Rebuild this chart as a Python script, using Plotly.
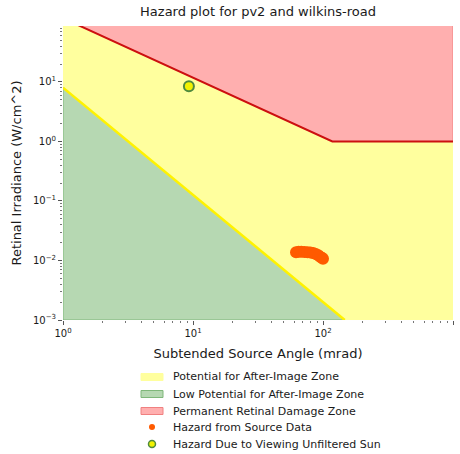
import plotly.graph_objects as go

# Threshold curves (subtended angle in mrad, retinal irradiance in W/cm^2)
afterimage_x = [1, 10, 100, 147]
afterimage_y = [8.0, 0.126, 0.002, 0.001]

burn_x = [1, 118, 1000]
burn_y = [118, 1.0, 1.0]

# Glare hazard samples from source data
source_x = [62, 65, 68, 72, 76, 80, 84, 88, 92, 95, 98, 100]
source_y = [0.0138, 0.0140, 0.0140, 0.0139, 0.0138, 0.0136, 0.0133, 0.0128, 0.0122, 0.0116, 0.0111, 0.0107]

# Unfiltered sun
sun_x = [9.3]
sun_y = [8.5]

legend_labels = [
    "Potential for After-Image Zone",
    "Low Potential for After-Image Zone",
    "Permanent Retinal Damage Zone",
    "Hazard from Source Data",
    "Hazard Due to Viewing Unfiltered Sun",
]

x_min, x_max = 1, 1000
y_min, y_max = 1e-3, 1000

x_ticks = [1, 10, 100, 1000]
x_ticktext = ["10<sup>0</sup>", "10<sup>1</sup>", "10<sup>2</sup>", "10<sup>3</sup>"]
y_ticks = [1e-3, 1e-2, 1e-1, 1, 10]
y_ticktext = ["10<sup>−3</sup>", "10<sup>−2</sup>", "10<sup>−1</sup>", "10<sup>0</sup>", "10<sup>1</sup>"]

yellow = "#FFFF9E"
green = "#B6D8B2"
pink = "#FFAFAF"
orange = "#FF5A00"
sun_fill = "#F2F200"
sun_edge = "#4E8A3E"
text_color = "#1A1A1A"

W, H = 460, 454
ML, MR, MT, MB = 63, 7, 26, 134
PW, PH = W - ML - MR, H - MT - MB


def px(xp):
    return (xp - ML) / PW


def py(yp):
    return (H - MB - yp) / PH


fig = go.Figure()

# Whole region first, other zones drawn over it
fig.add_trace(go.Scatter(
    x=[x_min, x_max, x_max, x_min, x_min], y=[y_min, y_min, y_max, y_max, y_min],
    fill="toself", fillcolor=yellow, mode="lines", line=dict(color=yellow, width=1),
    name=legend_labels[0], hoverinfo="skip"))

fig.add_trace(go.Scatter(
    x=afterimage_x + [afterimage_x[-1], x_min, x_min],
    y=afterimage_y + [y_min, y_min, afterimage_y[0]],
    fill="toself", fillcolor=green, mode="lines", line=dict(color="#7FB77A", width=1),
    name=legend_labels[1], hoverinfo="skip"))

fig.add_trace(go.Scatter(
    x=burn_x + [x_max, x_min, x_min],
    y=burn_y + [y_max, y_max, burn_y[0]],
    fill="toself", fillcolor=pink, mode="lines", line=dict(color="#F08080", width=1),
    name=legend_labels[2], hoverinfo="skip"))

fig.add_trace(go.Scatter(
    x=afterimage_x, y=afterimage_y, mode="lines",
    line=dict(color="#FFF200", width=2.5), hoverinfo="skip"))

fig.add_trace(go.Scatter(
    x=burn_x, y=burn_y, mode="lines",
    line=dict(color="#CC1010", width=2), hoverinfo="skip"))

fig.add_trace(go.Scatter(
    x=source_x, y=source_y, mode="markers",
    marker=dict(color=orange, size=12, line=dict(width=0)),
    name=legend_labels[3]))

fig.add_trace(go.Scatter(
    x=sun_x, y=sun_y, mode="markers",
    marker=dict(color=sun_fill, size=10, line=dict(color=sun_edge, width=2)),
    name=legend_labels[4]))

fig.update_traces(showlegend=False)

# Compact legend below the axes, built from shapes and annotations
rows = [377, 394, 411, 427, 444]
sym_x0, sym_x1, sym_cx, text_x = 141, 163, 152, 171
patch_styles = [(yellow, yellow), (green, "#7FB77A"), (pink, "#F08080")]
for i, (fc, lc) in enumerate(patch_styles):
    yc = rows[i]
    fig.add_shape(type="rect", xref="paper", yref="paper",
                  x0=px(sym_x0), x1=px(sym_x1), y0=py(yc + 3.5), y1=py(yc - 3.5),
                  fillcolor=fc, line=dict(color=lc, width=1))
for i, (fc, lc, r, lw) in enumerate([(orange, orange, 3, 0), (sun_fill, sun_edge, 3.5, 1.5)]):
    yc = rows[3 + i]
    fig.add_shape(type="circle", xref="paper", yref="paper",
                  x0=px(sym_cx - r), x1=px(sym_cx + r), y0=py(yc + r), y1=py(yc - r),
                  fillcolor=fc, line=dict(color=lc, width=lw))
for label, yc in zip(legend_labels, rows):
    fig.add_annotation(text=label, xref="paper", yref="paper", x=px(text_x), y=py(yc),
                       xanchor="left", yanchor="middle", showarrow=False,
                       font=dict(family="DejaVu Sans", size=11, color=text_color))

minor_x = [m * 10 ** e for e in range(0, 3) for m in range(2, 10)]
minor_y = [m * 10.0 ** e for e in range(-3, 2) for m in range(2, 10)]

axis_common = dict(
    type="log", showgrid=False, zeroline=False, showline=False,
    ticks="outside", ticklen=4, tickwidth=1, tickcolor="#555555",
    tickfont=dict(family="DejaVu Sans", size=10, color=text_color),
    tickmode="array",
)

fig.update_xaxes(
    **axis_common, range=[0, 3], tickvals=x_ticks, ticktext=x_ticktext,
    minor=dict(tickmode="array", tickvals=minor_x, ticks="outside", ticklen=2, tickcolor="#777777"),
    title=dict(text="Subtended Source Angle (mrad)", font=dict(family="DejaVu Sans", size=13, color=text_color), standoff=10),
)
fig.update_yaxes(
    **axis_common, range=[-3, 1.94], tickvals=y_ticks, ticktext=y_ticktext,
    minor=dict(tickmode="array", tickvals=minor_y, ticks="outside", ticklen=2, tickcolor="#777777"),
    title=dict(text="Retinal Irradiance (W/cm^2)", font=dict(family="DejaVu Sans", size=13, color=text_color), standoff=8),
)

fig.update_layout(
    width=W, height=H,
    margin=dict(l=ML, r=MR, t=MT, b=MB, autoexpand=False),
    paper_bgcolor="white", plot_bgcolor="white",
    title=dict(text="Hazard plot for pv2 and wilkins-road", x=0.561, xanchor="center", y=0.975, yanchor="middle",
               font=dict(family="DejaVu Sans", size=13, color=text_color)),
    showlegend=False,
)

fig.write_html("out.html")
